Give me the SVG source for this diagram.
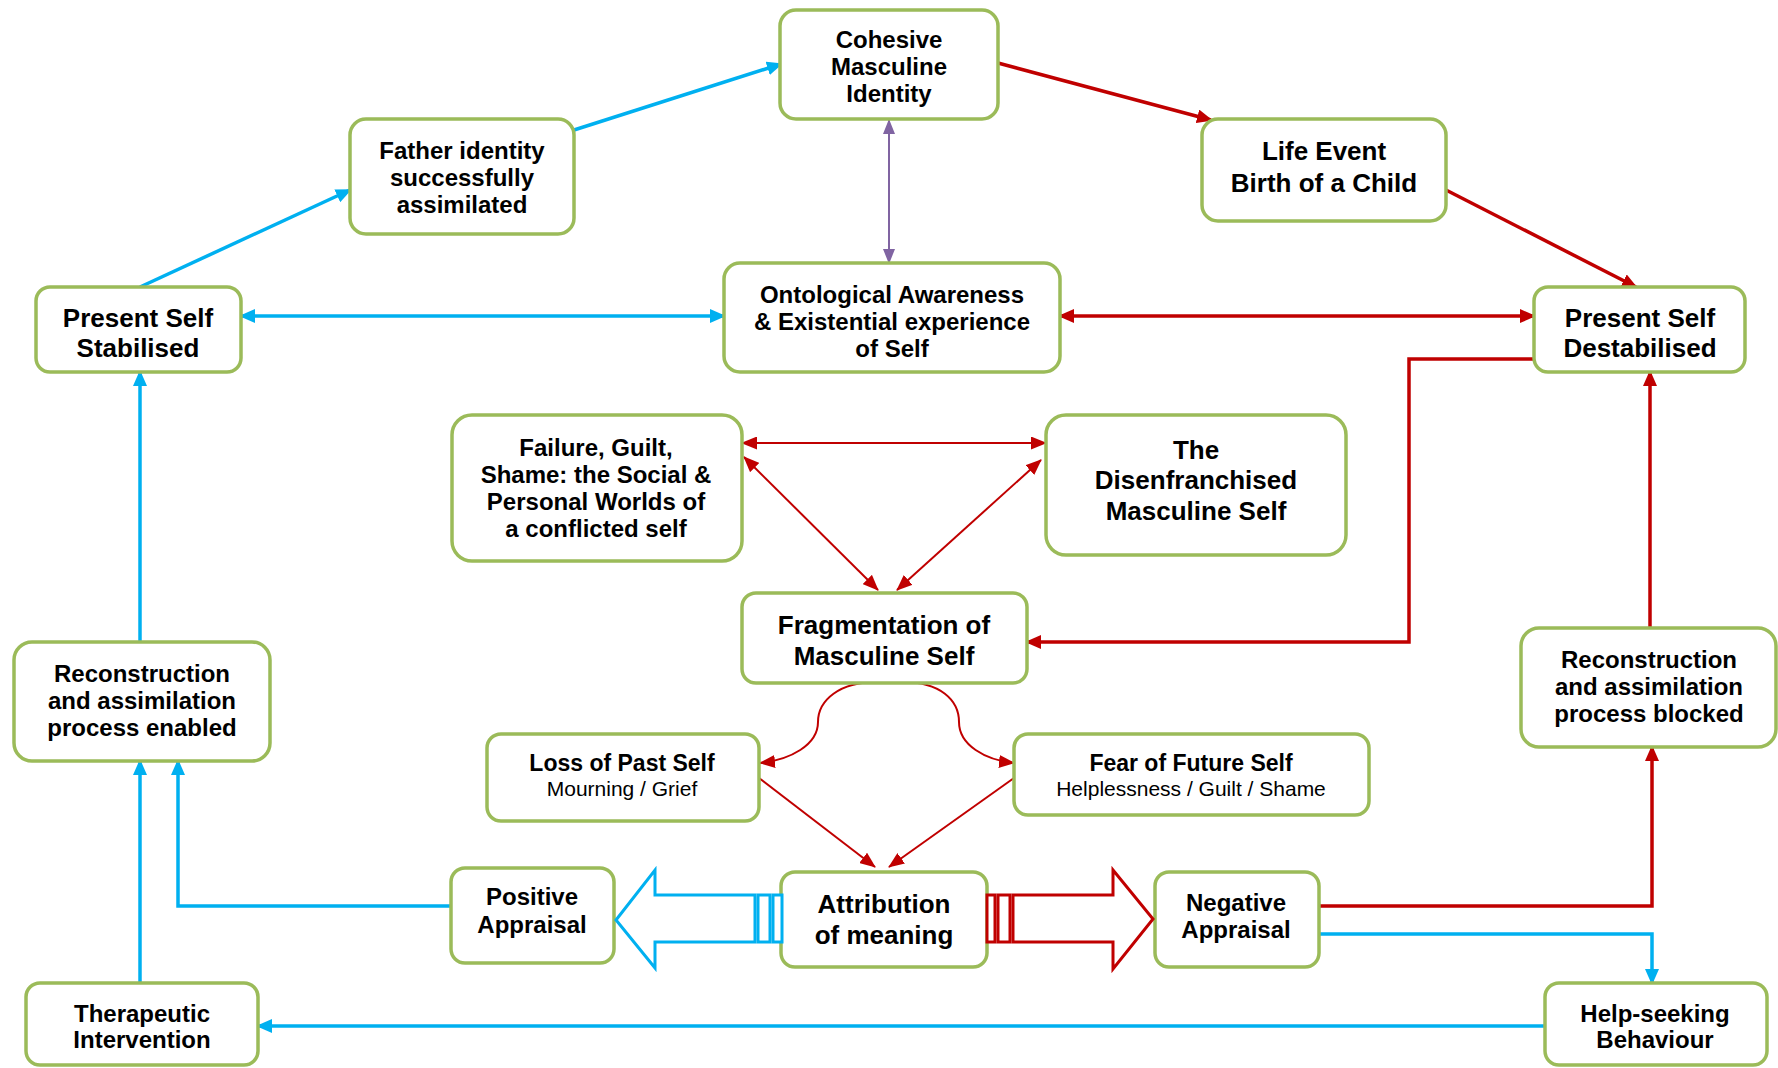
<svg xmlns="http://www.w3.org/2000/svg" width="1778" height="1068" viewBox="0 0 1778 1068">
<style>
.box{fill:#fff;stroke:#9BBB59;stroke-width:3.5}
text{font-family:"Liberation Sans",Arial,sans-serif;fill:#000;text-anchor:middle}
.b{font-weight:bold;font-size:24px}
.l{font-weight:bold;font-size:26px}
.s{font-weight:bold;font-size:23px}
.r{font-weight:normal;font-size:21px}
.blue{fill:none;stroke:#00B0F0;stroke-width:3.5}
.red{fill:none;stroke:#C00000;stroke-width:3.5}
.redt{fill:none;stroke:#C00000;stroke-width:2}
.pur{fill:none;stroke:#8064A2;stroke-width:2}
</style>
<defs>
<marker id="ab" viewBox="0 0 16 14" refX="14" refY="7" markerWidth="16" markerHeight="14" markerUnits="userSpaceOnUse" orient="auto-start-reverse"><path d="M0,0 L16,7 L0,14 z" fill="#00B0F0"/></marker>
<marker id="ar" viewBox="0 0 16 14" refX="14" refY="7" markerWidth="16" markerHeight="14" markerUnits="userSpaceOnUse" orient="auto-start-reverse"><path d="M0,0 L16,7 L0,14 z" fill="#C00000"/></marker>
<marker id="art" viewBox="0 0 16 13" refX="15" refY="6.5" markerWidth="16" markerHeight="13" markerUnits="userSpaceOnUse" orient="auto-start-reverse"><path d="M0,0 L16,6.5 L0,13 z" fill="#C00000"/></marker>
<marker id="ap" viewBox="0 0 15 12" refX="14" refY="6" markerWidth="15" markerHeight="12" markerUnits="userSpaceOnUse" orient="auto-start-reverse"><path d="M0,0 L15,6 L0,12 z" fill="#8064A2"/></marker>
</defs>

<g id="connectors">
<path class="blue" d="M574,130 L781,64" marker-end="url(#ab)"/>
<path class="blue" d="M140,287 L350,190" marker-end="url(#ab)"/>
<path class="blue" d="M241,316 L724,316" marker-start="url(#ab)" marker-end="url(#ab)"/>
<path class="blue" d="M140,642 L140,372" marker-end="url(#ab)"/>
<path class="blue" d="M140,983 L140,761" marker-end="url(#ab)"/>
<path class="blue" d="M451,906 L178,906 L178,761" marker-end="url(#ab)"/>
<path class="blue" d="M1545,1026 L258,1026" marker-end="url(#ab)"/>
<path class="blue" d="M1319,934 L1652,934 L1652,983" marker-end="url(#ab)"/>
<path class="red" d="M998,63 L1211,120" marker-end="url(#ar)"/>
<path class="red" d="M1446,190 L1636,287" marker-end="url(#ar)"/>
<path class="red" d="M1060,316 L1534,316" marker-start="url(#ar)" marker-end="url(#ar)"/>
<path class="red" d="M1534,359 L1409,359 L1409,642 L1027,642" marker-end="url(#ar)"/>
<path class="red" d="M1650,628 L1650,372" marker-end="url(#ar)"/>
<path class="red" d="M1319,906 L1652,906 L1652,747" marker-end="url(#ar)"/>
<path class="redt" d="M742,443 L1046,443" marker-start="url(#art)" marker-end="url(#art)"/>
<path class="redt" d="M744,457 L878,590" marker-start="url(#art)" marker-end="url(#art)"/>
<path class="redt" d="M1041,460 L897,590" marker-start="url(#art)" marker-end="url(#art)"/>
<path class="redt" d="M876,682 C840,682 818,700 818,722 C818,745 790,760 760,763" marker-end="url(#art)"/>
<path class="redt" d="M903,682 C940,682 959,700 959,722 C959,745 985,760 1014,763" marker-end="url(#art)"/>
<path class="redt" d="M759,778 L875,867" marker-end="url(#art)"/>
<path class="redt" d="M1014,778 L889,867" marker-end="url(#art)"/>
<path class="pur" d="M889,120 L889,263" marker-start="url(#ap)" marker-end="url(#ap)"/>
</g>

<g id="cohesive"><rect class="box" x="780" y="10" width="218" height="109" rx="16"/>
<text class="b" x="889" y="48">Cohesive</text><text class="b" x="889" y="75">Masculine</text><text class="b" x="889" y="102">Identity</text></g>

<g id="father"><rect class="box" x="350" y="119" width="224" height="115" rx="16"/>
<text class="b" x="462" y="159">Father identity</text><text class="b" x="462" y="186">successfully</text><text class="b" x="462" y="213">assimilated</text></g>

<g id="life-event"><rect class="box" x="1202" y="119" width="244" height="102" rx="16"/>
<text class="l" x="1324" y="160">Life Event</text><text class="l" x="1324" y="192">Birth of a Child</text></g>

<g id="stabilised"><rect class="box" x="36" y="287" width="205" height="85" rx="14"/>
<text class="l" x="138" y="327">Present Self</text><text class="l" x="138" y="357">Stabilised</text></g>

<g id="ontological"><rect class="box" x="724" y="263" width="336" height="109" rx="16"/>
<text class="b" x="892" y="303">Ontological Awareness</text><text class="b" x="892" y="330">&amp; Existential experience</text><text class="b" x="892" y="357">of Self</text></g>

<g id="destabilised"><rect class="box" x="1534" y="287" width="211" height="85" rx="14"/>
<text class="l" x="1640" y="327">Present Self</text><text class="l" x="1640" y="357">Destabilised</text></g>

<g id="failure"><rect class="box" x="452" y="415" width="290" height="146" rx="20"/>
<text class="b" x="596" y="456">Failure, Guilt,</text><text class="b" x="596" y="483">Shame: the Social &amp;</text><text class="b" x="596" y="510">Personal Worlds of</text><text class="b" x="596" y="537">a conflicted self</text></g>

<g id="disenfranchised"><rect class="box" x="1046" y="415" width="300" height="140" rx="20"/>
<text class="l" x="1196" y="459">The</text><text class="l" x="1196" y="489">Disenfranchised</text><text class="l" x="1196" y="520">Masculine Self</text></g>

<g id="fragmentation"><rect class="box" x="742" y="593" width="285" height="90" rx="14"/>
<text class="l" x="884" y="634">Fragmentation of</text><text class="l" x="884" y="665">Masculine Self</text></g>

<g id="recon-enabled"><rect class="box" x="14" y="642" width="256" height="119" rx="18"/>
<text class="b" x="142" y="682">Reconstruction</text><text class="b" x="142" y="709">and assimilation</text><text class="b" x="142" y="736">process enabled</text></g>

<g id="recon-blocked"><rect class="box" x="1521" y="628" width="255" height="119" rx="18"/>
<text class="b" x="1649" y="668">Reconstruction</text><text class="b" x="1649" y="695">and assimilation</text><text class="b" x="1649" y="722">process blocked</text></g>

<g id="loss"><rect class="box" x="487" y="734" width="272" height="87" rx="14"/>
<text class="s" x="622" y="771">Loss of Past Self</text><text class="r" x="622" y="796">Mourning / Grief</text></g>

<g id="fear"><rect class="box" x="1014" y="734" width="355" height="81" rx="14"/>
<text class="s" x="1191" y="771">Fear of Future Self</text><text class="r" x="1191" y="796">Helplessness / Guilt / Shame</text></g>

<g id="positive"><rect class="box" x="451" y="868" width="163" height="95" rx="14"/>
<text class="b" x="532" y="905">Positive</text><text class="b" x="532" y="933">Appraisal</text></g>

<g id="attribution"><rect class="box" x="781" y="872" width="206" height="95" rx="14"/>
<text class="l" x="884" y="913">Attribution</text><text class="l" x="884" y="944">of meaning</text></g>

<g id="negative"><rect class="box" x="1155" y="872" width="164" height="95" rx="14"/>
<text class="b" x="1236" y="911">Negative</text><text class="b" x="1236" y="938">Appraisal</text></g>

<g id="therapeutic"><rect class="box" x="26" y="983" width="232" height="82" rx="14"/>
<text class="b" x="142" y="1022">Therapeutic</text><text class="b" x="142" y="1048">Intervention</text></g>

<g id="help-seeking"><rect class="box" x="1545" y="983" width="222" height="82" rx="14"/>
<text class="b" x="1655" y="1022">Help-seeking</text><text class="b" x="1655" y="1048">Behaviour</text></g>

<g id="block-arrows">
<polygon points="616,920 655,870 655,895 755,895 755,942 655,942 655,968" fill="#fff" stroke="#00B0F0" stroke-width="3"/>
<rect x="758" y="895" width="12" height="47" fill="#fff" stroke="#00B0F0" stroke-width="3"/>
<rect x="773" y="895" width="9" height="47" fill="#fff" stroke="#00B0F0" stroke-width="3"/>
<polygon points="1013,895 1113,895 1113,870 1153,919 1113,969 1113,942 1013,942" fill="#fff" stroke="#C00000" stroke-width="3"/>
<rect x="987" y="895" width="8" height="47" fill="#fff" stroke="#C00000" stroke-width="3"/>
<rect x="998" y="895" width="12" height="47" fill="#fff" stroke="#C00000" stroke-width="3"/>
</g>
</svg>
